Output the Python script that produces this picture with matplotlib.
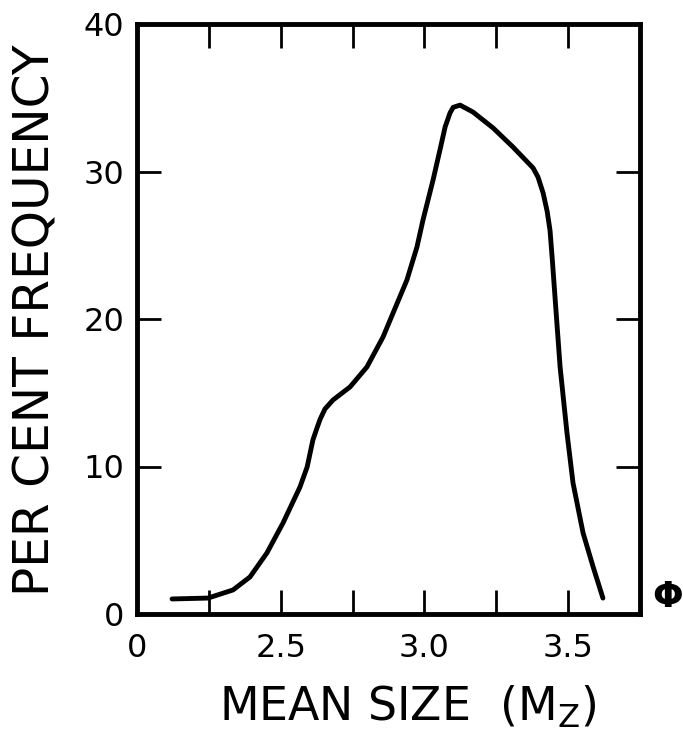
import matplotlib
matplotlib.use("Agg")
import matplotlib.pyplot as plt
import numpy as np

# Data (phi mean size vs per cent frequency)
mean_size = [2.122, 2.247, 2.334, 2.393, 2.452, 2.508, 2.567, 2.592, 2.612, 2.626,
             2.637, 2.654, 2.682, 2.741, 2.800, 2.856, 2.891, 2.939, 2.974, 2.995,
             3.030, 3.054, 3.072, 3.089, 3.100, 3.124, 3.169, 3.239, 3.308, 3.378,
             3.395, 3.413, 3.427, 3.437, 3.445, 3.455, 3.472, 3.496, 3.517,
             3.552, 3.587, 3.621]
frequency = [1.02, 1.08, 1.63, 2.51, 4.14, 6.17, 8.61, 9.97, 11.80, 12.60,
             13.20, 13.90, 14.51, 15.39, 16.75, 18.78, 20.41, 22.64, 24.88, 26.71,
             29.42, 31.46, 33.02, 33.97, 34.35, 34.50, 34.03, 32.95, 31.66, 30.24,
             29.63, 28.54, 27.30, 26.00, 24.00, 21.30, 16.75, 12.27, 8.88,
             5.49, 3.19, 1.08]

x_ticks = [2.0, 2.25, 2.5, 2.75, 3.0, 3.25, 3.5, 3.75]
x_ticklabels = ['0', '', '2.5', '', '3.0', '', '3.5', '']
y_ticks = [0, 10, 20, 30, 40]
y_ticklabels = ['0', '10', '20', '30', '40']

plt.rcParams['font.family'] = ['DejaVu Sans']

fig = plt.figure(figsize=(6.83, 7.36), dpi=100)
ax = fig.add_axes([137/683, 1-614/736, (640-137)/683, (614-24)/736])

ax.plot(mean_size, frequency, color='black', lw=3.5, solid_capstyle='round',
        solid_joinstyle='round')

ax.set_xlim(2.0, 3.75)
ax.set_ylim(0, 40)
ax.set_xticks(x_ticks)
ax.set_xticklabels(x_ticklabels)
ax.set_yticks(y_ticks)
ax.set_yticklabels(y_ticklabels)

for s in ax.spines.values():
    s.set_linewidth(3.5)
    s.set_color('black')

ax.tick_params(axis='both', which='major', direction='in', length=17, width=2.0,
               top=True, right=True, labelsize=23, colors='black')
ax.tick_params(axis='x', pad=14)
ax.tick_params(axis='y', pad=9)

fig.text(36/683, 1-320/736, 'PER CENT FREQUENCY', fontsize=35, rotation=90,
         ha='center', va='center')

fig.text(408/683, 1-721/736, r'MEAN SIZE  (M$_{\mathrm{Z}}$)', fontsize=33,
         ha='center', va='baseline')

fig.text(668/683, 1-597/736, '\u03a6', fontsize=26, fontweight='bold',
         ha='center', va='center')

fig.savefig('out.png', dpi=100, facecolor='white')
